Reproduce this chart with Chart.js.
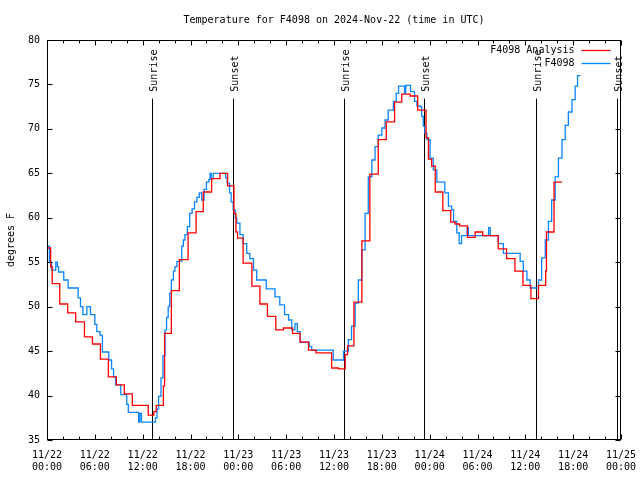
<!DOCTYPE html>
<html>
<head>
<meta charset="utf-8">
<script src="https://cdn.jsdelivr.net/npm/chart.js@4/dist/chart.umd.min.js"></script>
<style>
html, body { margin: 0; padding: 0; background: #fff; }
canvas { display: block; }
</style>
</head>
<body>
<canvas id="chart" width="640" height="480"></canvas>
<script>
// time axis is in hours since 2024-11-22 00:00 UTC
const analysisHours = [0, 0.46, 0.65, 1.6, 2.6, 3.6, 4.7, 5.7, 6.7, 7.7, 8.7, 9.7, 10.7, 12.7, 13.4, 13.7,
    14.6, 14.75, 15.6, 16.6, 17.7, 18.7, 19.6, 20.65, 21.7, 22.65, 23.45, 23.7, 23.9, 24.6, 25.7, 26.7,
    27.65, 28.7, 29.65, 30.8, 31.75, 32.8, 33.75, 35.7, 36.55, 37.4, 37.7, 38.5, 39.5, 40.5, 41.55,
    42.55, 43.6, 44.5, 45.55, 46.5, 47.55, 47.85, 48.25, 48.7, 49.65, 50.65, 51.2, 51.75, 52.75, 53.7,
    54.65, 56.6, 57.65, 58.7, 59.7, 60.7, 61.65, 62.55, 62.65, 63.6, 64.6];
const analysisTemps = [56.6, 54.5, 52.6, 50.3, 49.3, 48.3, 46.6, 45.8, 44.1, 42.1, 41.2, 40.2, 38.9, 37.8, 38.2, 38.9,
    41.1, 47.0, 51.8, 55.3, 58.3, 60.7, 62.9, 64.4, 65.0, 63.6, 60.5, 58.4, 57.7, 54.9, 52.3, 50.3,
    48.9, 47.4, 47.6, 47.0, 46.0, 45.1, 44.8, 43.1, 43.0, 44.6, 45.6, 50.5, 57.4, 64.9, 68.8,
    70.8, 73.0, 73.9, 73.7, 72.1, 69.0, 66.6, 65.8, 62.9, 60.8, 59.5, 59.3, 59.1, 57.8, 58.4,
    58.0, 56.5, 55.4, 54.0, 52.4, 50.9, 52.4, 54.0, 58.4, 64.0, 64.0];

const obsHours = [0, 0.3, 0.55, 1.1, 1.3, 1.45, 2.1, 2.65, 3.9, 4.2, 4.5, 5.0, 5.45, 6.0, 6.25, 6.65, 6.95,
    7.75, 8.1, 8.35, 8.6, 9.25, 10.0, 10.2, 11.5, 11.65, 11.85, 13.6, 13.8, 14.0, 14.3, 14.55, 14.8,
    15.0, 15.2, 15.4, 15.6, 15.85, 16.05, 16.3, 16.9, 17.1, 17.3, 17.6, 17.9, 18.2, 18.5, 18.8, 19.1,
    19.4, 19.7, 20.0, 20.3, 20.45, 20.6, 20.85, 22.4, 22.6, 22.9, 23.1, 23.35, 23.6, 23.8, 24.2, 24.6,
    25.05, 25.45, 25.9, 26.3, 27.5, 28.6, 29.2, 29.8, 30.3, 30.7, 31.1, 31.4, 31.75, 32.9, 33.2, 35.9,
    37.2, 37.8, 38.2, 38.65, 39.05, 39.5, 39.9, 40.3, 40.75, 41.15, 41.55, 42.0, 42.4, 42.8, 43.45,
    43.8, 44.1, 44.85, 45.0, 45.6, 46.1, 46.4, 46.8, 47.0, 47.2, 47.4, 47.65, 48.05, 48.45, 48.9,
    49.9, 50.35, 50.75, 51.0, 51.4, 51.7, 52.0, 52.7, 52.85, 55.4, 55.6, 56.6, 57.25, 59.35, 59.75,
    60.2, 60.6, 61.65, 62.05, 62.5, 62.9, 63.3, 63.75, 64.15, 64.6, 65.0, 65.4, 65.85, 66.25, 66.55, 66.9];
const obsTemps = [56.8, 55.0, 54.1, 55.0, 54.5, 53.9, 53.0, 52.1, 51.0, 50.0, 49.1, 50.0, 49.1, 48.0, 47.2, 46.8, 44.9,
    44.0, 43.0, 42.1, 41.2, 40.1, 39.0, 38.1, 37.0, 38.0, 37.0, 37.5, 38.5, 39.9, 42.0, 44.5, 47.4,
    48.8, 50.0, 51.5, 53.0, 54.0, 54.5, 55.1, 56.8, 57.5, 58.1, 59.0, 60.5, 61.0, 61.8, 62.3, 62.8,
    62.0, 63.2, 64.0, 64.3, 65.0, 64.4, 65.0, 64.5, 63.9, 62.8, 61.8, 60.9, 60.0, 59.4, 58.1, 57.1,
    56.0, 55.4, 54.1, 53.0, 52.0, 51.1, 50.2, 49.1, 48.5, 47.4, 48.1, 47.2, 46.0, 45.5, 45.1, 44.0,
    45.0, 46.3, 47.8, 50.4, 53.0, 56.4, 60.5, 64.6, 66.5, 68.0, 69.3, 70.1, 71.0, 72.1, 73.1,
    74.0, 74.8, 74.0, 74.9, 74.2, 73.1, 72.6, 72.5, 71.4, 70.3, 69.5, 68.8, 66.7, 65.4, 64.0,
    62.8, 61.3, 60.9, 59.6, 58.3, 57.1, 58.0, 58.9, 58.0, 58.9, 58.0, 57.1, 56.0, 55.1, 54.0,
    53.0, 52.1, 53.0, 55.5, 57.5, 59.6, 62.0, 64.6, 66.7, 68.8, 70.4, 71.9, 73.3, 74.8, 76.0, 76.0];

const xTickLabels = [
    "11/22 00:00", "11/22 06:00", "11/22 12:00", "11/22 18:00",
    "11/23 00:00", "11/23 06:00", "11/23 12:00", "11/23 18:00",
    "11/24 00:00", "11/24 06:00", "11/24 12:00", "11/24 18:00",
    "11/25 00:00"
];

const sunLabels = ["Sunrise", "Sunset", "Sunrise", "Sunset", "Sunrise", "Sunset"];
const sunHours = [13.2, 23.37, 37.29, 47.33, 61.38, 71.5];

const toPoints = (xs, ys) => xs.map((x, i) => ({ x: x, y: ys[i] }));

Chart.defaults.font.family = "'DejaVu Sans Mono', monospace";
Chart.defaults.font.size = 10;
Chart.defaults.color = "#000";

// gnuplot style frame, inward ticks, sun markers and legend
const gnuFrame = {
    id: "gnuFrame",
    beforeDatasetsDraw(chart) {
        const ctx = chart.ctx;
        const xs = chart.scales.x;
        const ys = chart.scales.y;
        const top = ys.getPixelForValue(73.4);
        const bottom = chart.chartArea.bottom;
        ctx.save();
        ctx.strokeStyle = "#000";
        ctx.lineWidth = 1;
        ctx.fillStyle = "#000";
        ctx.font = "10px 'DejaVu Sans Mono', monospace";
        sunHours.forEach((h, i) => {
            const x = Math.round(xs.getPixelForValue(h)) + 0.5;
            ctx.beginPath();
            ctx.moveTo(x, top);
            ctx.lineTo(x, bottom);
            ctx.stroke();
            ctx.save();
            ctx.translate(x + 4.5, top - 7);
            ctx.rotate(-Math.PI / 2);
            ctx.textAlign = "left";
            ctx.textBaseline = "alphabetic";
            ctx.fillText(sunLabels[i], 0, 0);
            ctx.restore();
        });
        ctx.restore();
    },
    afterDraw(chart) {
        const ctx = chart.ctx;
        const { left, right, top, bottom } = chart.chartArea;
        const xs = chart.scales.x;
        const ys = chart.scales.y;
        ctx.save();
        ctx.strokeStyle = "#000";
        ctx.lineWidth = 1;
        const L = Math.round(left) + 0.5, R = Math.round(right) - 0.5;
        const T = Math.round(top) + 0.5, B = Math.round(bottom) - 0.5;
        ctx.strokeRect(L, T, R - L, B - T);
        ctx.beginPath();
        for (let h = 0; h <= 72; h += 2) {
            const x = Math.round(xs.getPixelForValue(h)) + 0.5;
            const len = h % 6 === 0 ? 5 : 3;
            ctx.moveTo(x, B); ctx.lineTo(x, B - len);
            ctx.moveTo(x, T); ctx.lineTo(x, T + len);
        }
        for (let v = 35; v <= 80; v += 5) {
            const y = Math.round(ys.getPixelForValue(v)) + 0.5;
            ctx.moveTo(L, y); ctx.lineTo(L + 5, y);
            ctx.moveTo(R, y); ctx.lineTo(R - 5, y);
        }
        ctx.stroke();

        // legend, top right inside the plot
        ctx.font = "10px 'DejaVu Sans Mono', monospace";
        ctx.textAlign = "right";
        ctx.textBaseline = "middle";
        chart.data.datasets.forEach((ds, i) => {
            const y = 50 + i * 13;
            ctx.fillStyle = "#000";
            ctx.fillText(ds.label, R - 46, y);
            ctx.strokeStyle = ds.borderColor;
            ctx.lineWidth = 1.3;
            ctx.beginPath();
            ctx.moveTo(R - 39, y + 0.5);
            ctx.lineTo(R - 10, y + 0.5);
            ctx.stroke();
        });
        ctx.restore();
    }
};

new Chart(document.getElementById("chart"), {
    type: "line",
    data: {
        datasets: [
            {
                label: "F4098 Analysis",
                data: toPoints(analysisHours, analysisTemps),
                borderColor: "#ff0000",
                borderWidth: 1.3,
                pointRadius: 0,
                stepped: true,
                fill: false
            },
            {
                label: "F4098",
                data: toPoints(obsHours, obsTemps),
                borderColor: "#0a84ff",
                borderWidth: 1.3,
                pointRadius: 0,
                stepped: true,
                fill: false
            }
        ]
    },
    options: {
        responsive: false,
        animation: false,
        devicePixelRatio: 1,
        layout: {
            padding: { left: 0, right: 19, top: 0, bottom: 0 }
        },
        plugins: {
            legend: { display: false },
            tooltip: { enabled: false },
            title: {
                display: true,
                text: "Temperature for F4098 on 2024-Nov-22 (time in UTC)",
                fullSize: false,
                color: "#000",
                font: { size: 10, weight: "normal" },
                padding: { top: 14, bottom: 14 }
            }
        },
        scales: {
            x: {
                type: "linear",
                min: 0,
                max: 72,
                grid: { display: false, drawTicks: false },
                border: { display: false },
                ticks: {
                    stepSize: 6,
                    autoSkip: false,
                    maxRotation: 0,
                    padding: 9,
                    callback: (value, index) => xTickLabels[index] ? xTickLabels[index].split(" ") : ""
                },
                afterFit: (scale) => {
                    scale.height = 40;
                    scale.paddingLeft = 0;
                    scale.paddingRight = 0;
                }
            },
            y: {
                min: 35,
                max: 80,
                grid: { display: false, drawTicks: false },
                border: { display: false },
                ticks: { stepSize: 5, padding: 7 },
                title: {
                    display: true,
                    text: "degrees F",
                    padding: { top: 5, bottom: 0 }
                },
                afterFit: (scale) => { scale.width = 47; }
            }
        }
    },
    plugins: [gnuFrame]
});
</script>
</body>
</html>
